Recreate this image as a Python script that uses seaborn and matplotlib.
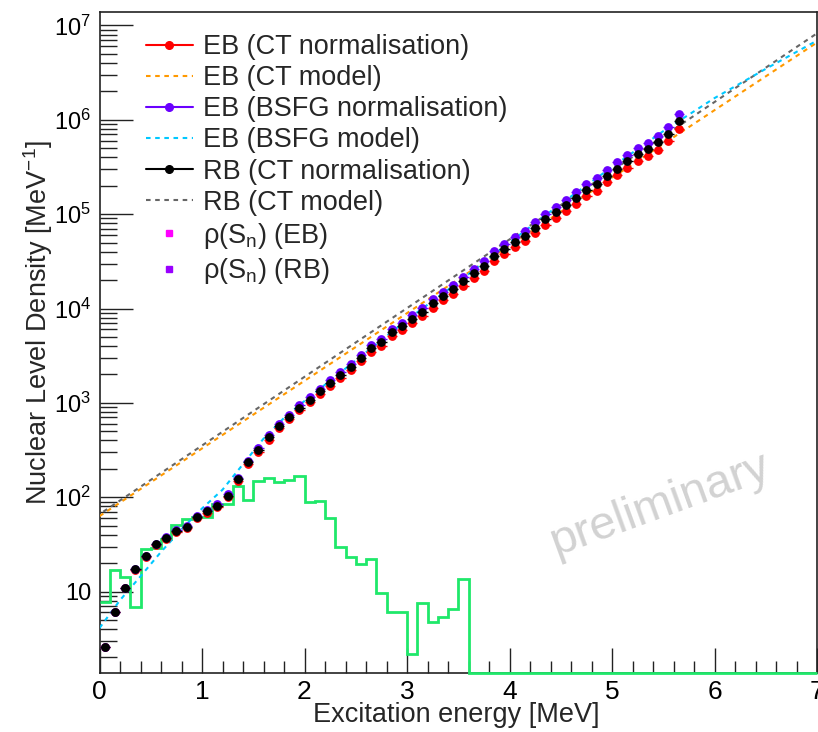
import numpy as np
import pandas as pd
import matplotlib
matplotlib.use("Agg")
import matplotlib.pyplot as plt
import seaborn as sns
from matplotlib.lines import Line2D
from matplotlib.ticker import FixedLocator, FixedFormatter, NullFormatter, MultipleLocator

# ---------------- data ----------------
energy = [0.05, 0.15, 0.25, 0.35, 0.45, 0.55, 0.65, 0.75, 0.85, 0.95,
          1.05, 1.15, 1.25, 1.35, 1.45, 1.55, 1.65, 1.75, 1.85, 1.95,
          2.05, 2.15, 2.25, 2.35, 2.45, 2.55, 2.65, 2.75, 2.85, 2.95,
          3.05, 3.15, 3.25, 3.35, 3.45, 3.55, 3.65, 3.75, 3.85, 3.95,
          4.05, 4.15, 4.25, 4.35, 4.45, 4.55, 4.65, 4.75, 4.85, 4.95,
          5.05, 5.15, 5.25, 5.35, 5.45, 5.55, 5.65]

rho_rb_ct = [2.61, 6.04, 10.9, 17.3, 23.6, 31.6, 37.2, 44.1, 48.3, 62.1,
             70.6, 81.3, 104, 155, 234, 319, 431, 571, 711, 885,
             1084, 1327, 1629, 1995, 2410, 3006, 3802, 4395, 5623, 6501,
             7798, 9247, 11324, 13552, 15959, 19543, 23605, 28184, 35975, 43152,
             50699, 58749, 72111, 88308, 105439, 124165, 149968, 180717, 207491, 254683,
             304789, 367282, 432514, 488652, 575440, 704693, 961612]

rho_eb_ct = [2.60, 6.01, 10.8, 17.1, 23.3, 31.0, 36.4, 43.0, 47.0, 60.2,
             68.2, 78.3, 99.9, 148, 223, 303, 409, 540, 670, 831,
             1015, 1238, 1515, 1850, 2227, 2769, 3491, 4022, 5130, 5912,
             7068, 8355, 10198, 12166, 14282, 17432, 20987, 24979, 31780, 38000,
             44504, 51405, 62895, 76775, 91373, 107254, 129123, 155109, 177509, 217194,
             259071, 311198, 365301, 411396, 482909, 589476, 801802]

rho_eb_bsfg = [2.61, 6.07, 11.0, 17.5, 23.9, 32.1, 37.9, 45.1, 49.5, 63.9,
               72.9, 84.1, 108, 161, 244, 334, 453, 602, 751, 938,
               1153, 1415, 1743, 2140, 2593, 3244, 4116, 4772, 6124, 7102,
               8543, 10162, 12481, 14983, 17697, 21736, 26334, 31538, 40375, 48576,
               57245, 66533, 81911, 100618, 120496, 142330, 172418, 208403, 240005, 295483,
               354683, 428692, 506344, 573824, 677753, 832524, 1139510]

rel_err = 0.07          # relative vertical uncertainty of the points
e_err = 0.05            # half bin width [MeV]

model_e = [0.0, 7.0]
eb_ct_model = [63.0, 6.6e6]
rb_ct_model = [66.0, 8.26e6]

bsfg_e = [0.0, 0.2, 0.4, 0.6, 0.8, 1.0, 1.2, 1.4, 1.6, 1.8, 2.0,
          2.5, 3.0, 3.5, 4.0, 4.5, 5.0, 5.5, 6.0, 6.5, 7.0]
eb_bsfg_model = [4.1, 8.1, 14.5, 26.3, 45.7, 75.9, 120, 224, 417, 692, 1047,
                 2818, 7586, 19055, 50119, 128825, 316228, 758578, 1.70e6, 3.47e6, 6.92e6]

hist_edges = [round(0.1 * i, 1) for i in range(71)]
hist_counts = [7.8, 17.0, 14.2, 6.8, 28.4, 28.9, 36.2, 50.2, 59.2, 61.6,
               61.6, 84.7, 84.7, 130, 94, 147, 160, 144, 151, 166,
               90, 92, 60, 30, 23.2, 19.8, 22.4, 9.7, 6.0, 6.1,
               2.2, 7.6, 4.7, 5.4, 6.5, 13.7] + [0] * 34

ytick_vals = [10, 1e2, 1e3, 1e4, 1e5, 1e6, 1e7]
ytick_labels = ["10", r"$10^{2}$", r"$10^{3}$", r"$10^{4}$", r"$10^{5}$", r"$10^{6}$", r"$10^{7}$"]
xtick_vals = [0, 1, 2, 3, 4, 5, 6, 7]

# ---------------- style ----------------
sns.set_theme(style="ticks")
plt.rcParams["font.family"] = ["Liberation Sans", "DejaVu Sans"]
plt.rcParams["mathtext.fontset"] = "custom"
plt.rcParams["mathtext.rm"] = "Liberation Sans"
plt.rcParams["mathtext.it"] = "Liberation Sans:italic"
plt.rcParams["mathtext.default"] = "regular"

C_RED = "#ff0000"
C_ORANGE = "#ff9900"
C_VIOLET = "#6a00ff"
C_CYAN = "#00c8ff"
C_BLACK = "#000000"
C_GREY = "#666666"
C_GREEN = "#1fe86a"

fig = plt.figure(figsize=(8.18, 7.32), dpi=100)
ax = fig.add_axes([99.5 / 818, 1 - 673.3 / 732, (817 - 99.5) / 818, (673.3 - 12.3) / 732])
ax.set_yscale("log")
ax.set_xlim(0, 7)
ax.set_ylim(1.36, 1.38e7)

# histogram (zero bins drawn on the lower frame)
ymin = ax.get_ylim()[0]
counts_plot = [c if c > 0 else ymin for c in hist_counts]
ax.stairs(counts_plot, hist_edges, baseline=None, color=C_GREEN, lw=2.0, zorder=3, clip_on=False)

# model curves
dash = (0, (2.2, 2.2))
df_ct = pd.DataFrame({"E": model_e, "eb": eb_ct_model, "rb": rb_ct_model})
sns.lineplot(data=df_ct, x="E", y="eb", ax=ax, color=C_ORANGE, lw=1.5, linestyle=dash, estimator=None, zorder=4)
sns.lineplot(data=df_ct, x="E", y="rb", ax=ax, color=C_GREY, lw=1.5, linestyle=(2.2, (2.2, 2.2)), estimator=None, zorder=4)
df_bsfg = pd.DataFrame({"E": bsfg_e, "rho": eb_bsfg_model})
sns.lineplot(data=df_bsfg, x="E", y="rho", ax=ax, color=C_CYAN, lw=1.5, linestyle=dash, estimator=None, zorder=4)

# data points with error bars
series = [(rho_eb_ct, C_RED), (rho_eb_bsfg, C_VIOLET), (rho_rb_ct, C_BLACK)]
for k, (vals, col) in enumerate(series):
    v = np.asarray(vals, dtype=float)
    ax.errorbar(energy, v, xerr=e_err, yerr=rel_err * v, fmt="none", ecolor=col, elinewidth=1.0,
                capsize=0, zorder=5 + k)
    df = pd.DataFrame({"E": energy, "rho": v})
    sns.scatterplot(data=df, x="E", y="rho", ax=ax, color=col, s=40, linewidth=0, marker="o", zorder=5.5 + k)

# axes styling
ax.set_xlabel("Excitation energy [MeV]", fontsize=19.5)
ax.xaxis.set_label_coords(0.497, -0.063)
ax.xaxis.label.set_verticalalignment("center")
ax.set_ylabel(r"Nuclear Level Density [MeV$^{-1}$]", fontsize=19.5)
ax.yaxis.set_label_coords(-0.086, 0.531)
ax.yaxis.label.set_verticalalignment("center")

ax.xaxis.set_major_locator(FixedLocator(xtick_vals))
ax.xaxis.set_minor_locator(MultipleLocator(0.2))
ax.yaxis.set_major_locator(FixedLocator(ytick_vals))
ax.yaxis.set_major_formatter(FixedFormatter(ytick_labels))
minor_y = [m * 10.0 ** d for d in range(0, 7) for m in range(2, 10) if 1.36 < m * 10.0 ** d < 1.38e7]
ax.yaxis.set_minor_locator(FixedLocator(minor_y))
ax.yaxis.set_minor_formatter(NullFormatter())

ax.tick_params(axis="both", which="both", direction="in", top=False, right=False, colors="#222222",
               labelcolor="black")
ax.tick_params(axis="x", which="major", length=18, width=1.0, pad=5, labelsize=19)
ax.tick_params(axis="x", which="minor", length=9, width=1.0)
ax.tick_params(axis="y", which="major", length=24, width=1.0, pad=6, labelsize=17)
ax.tick_params(axis="y", which="minor", length=12, width=1.0)
for s in ax.spines.values():
    s.set_linewidth(1.2)
    s.set_color("#222222")
ax.grid(False)

# legend
handles = [
    Line2D([], [], color=C_RED, lw=1.5, marker="o", ms=5.5),
    Line2D([], [], color=C_ORANGE, lw=1.5, linestyle=dash),
    Line2D([], [], color=C_VIOLET, lw=1.5, marker="o", ms=5.5),
    Line2D([], [], color=C_CYAN, lw=1.5, linestyle=dash),
    Line2D([], [], color=C_BLACK, lw=1.5, marker="o", ms=5.5),
    Line2D([], [], color=C_GREY, lw=1.5, linestyle=dash),
    Line2D([], [], color="#ff00ff", lw=0, marker="s", ms=5),
    Line2D([], [], color="#9900ff", lw=0, marker="s", ms=5),
]
labels = ["EB (CT normalisation)", "EB (CT model)", "EB (BSFG normalisation)", "EB (BSFG model)",
          "RB (CT normalisation)", "RB (CT model)", r"ρ(S$_{n}$) (EB)", r"ρ(S$_{n}$) (RB)"]
leg = ax.legend(handles, labels, loc="upper left", bbox_to_anchor=(146 / 818, 1 - 34 / 732),
                bbox_transform=fig.transFigure, frameon=False, fontsize=19.5, handlelength=1.72,
                handletextpad=0.38, labelspacing=0.19, borderpad=0, borderaxespad=0)

# watermark
fig.text(660 / 818, 1 - 505 / 732, "preliminary", rotation=20, fontsize=34, color="#d2d2d2",
         ha="center", va="center", rotation_mode="anchor")

fig.savefig("out.png", dpi=100)
